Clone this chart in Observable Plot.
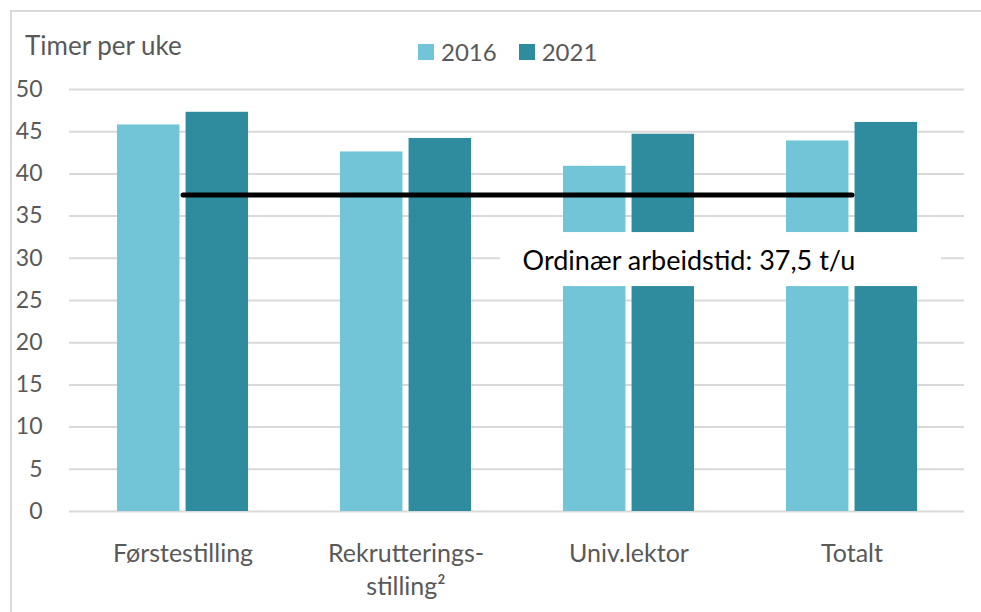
<!DOCTYPE html>
<html>
<head>
<meta charset="utf-8">
<script src="https://cdn.jsdelivr.net/npm/d3@7"></script>
<script src="https://cdn.jsdelivr.net/npm/@observablehq/plot@0.6"></script>
<style>
  html, body { margin: 0; padding: 0; background: #fff; }
  #wrap { position: relative; width: 981px; height: 612px; overflow: hidden; font-family: Lato, "Open Sans", sans-serif; color: #595959; }
  #frame { position: absolute; left: 10px; top: 10px; width: 990px; height: 640px; border: 2px solid #d9d9d9; box-sizing: border-box; }
  #title { position: absolute; left: 25px; top: 29px; font-size: 26px; line-height: 32px; }
  #legend { position: absolute; left: 418px; top: 37px; font-size: 24px; line-height: 30px; display: flex; align-items: center; }
  .sw { display: inline-block; width: 16px; height: 16px; margin-right: 7px; }
  .item { display: flex; align-items: center; margin-right: 22px; }
  #chart { position: absolute; left: 0; top: 0; }
</style>
</head>
<body>
<div id="wrap">
  <div id="frame"></div>
  <div id="chart"></div>
  <div id="title">Timer per uke</div>
  <div id="legend"></div>
</div>
<script>
const categories = ["Førstestilling", "Rekrutteringsstilling²", "Univ.lektor", "Totalt"];
const categoryLabels = ["Førstestilling", "Rekrutterings-\nstilling²", "Univ.lektor", "Totalt"];
const years = ["2016", "2021"];
const values2016 = [45.8, 42.6, 40.9, 43.9];
const values2021 = [47.3, 44.2, 44.7, 46.1];
const yTicks = [0, 5, 10, 15, 20, 25, 30, 35, 40, 45, 50];
const normalHours = 37.5;
const normalLabel = "Ordinær arbeidstid: 37,5 t/u";
const colors = ["#71C5D7", "#2E8C9E"];

const rows2016 = categories.map((c, i) => ({cat: c, year: "2016", value: values2016[i]}));
const rows2021 = categories.map((c, i) => ({cat: c, year: "2021", value: values2021[i]}));
const labelMap = new Map(categories.map((c, i) => [c, categoryLabels[i]]));

const W = 981, H = 612, ML = 69, MR = 17, MT = 89, MB = 101;
const step = (W - ML - MR) / (categories.length - 0.414 + 2 * 0.207);
const band = step * (1 - 0.414);
const half = band / 2 + 3;

const plot = Plot.plot({
  width: W, height: H,
  marginLeft: ML, marginRight: MR, marginTop: MT, marginBottom: MB,
  style: {fontFamily: "Lato, 'Open Sans', sans-serif", fontSize: "24px", color: "#595959", background: "transparent"},
  x: {domain: categories, paddingInner: 0.414, paddingOuter: 0.207},
  y: {domain: [0, 50]},
  marks: [
    Plot.ruleY(yTicks, {stroke: "#d9d9d9", strokeWidth: 2}),
    Plot.barY(rows2016, {x: "cat", y: "value", fill: colors[0], insetRight: half}),
    Plot.barY(rows2021, {x: "cat", y: "value", fill: colors[1], insetLeft: half}),
    Plot.lineY([{cat: categories[0], v: normalHours}, {cat: categories[categories.length - 1], v: normalHours}],
      {x: "cat", y: "v", stroke: "#000", strokeWidth: 5, strokeLinecap: "round"}),
    Plot.barY([{cat: "Univ.lektor"}], {x: "cat", y1: 26.65, y2: 33.05, fill: "#fff", insetLeft: -63, insetRight: -247}),
    Plot.text([normalLabel], {x: () => "Univ.lektor", y: () => 30, text: d => d, dx: 60, dy: 3, fill: "#000", fontSize: 27, textAnchor: "middle"}),
    Plot.axisY({ticks: yTicks, label: null, tickSize: 0, tickPadding: 27, fontSize: 23}),
    Plot.axisX({label: null, tickSize: 0, tickPadding: 27, fontSize: 25, lineHeight: 1.32, tickFormat: d => labelMap.get(d)})
  ]
});
document.getElementById("chart").appendChild(plot);

const legend = document.getElementById("legend");
years.forEach((y, i) => {
  const item = document.createElement("div");
  item.className = "item";
  item.innerHTML = `<span class="sw" style="background:${colors[i]}"></span><span>${y}</span>`;
  legend.appendChild(item);
});
</script>
</body>
</html>
